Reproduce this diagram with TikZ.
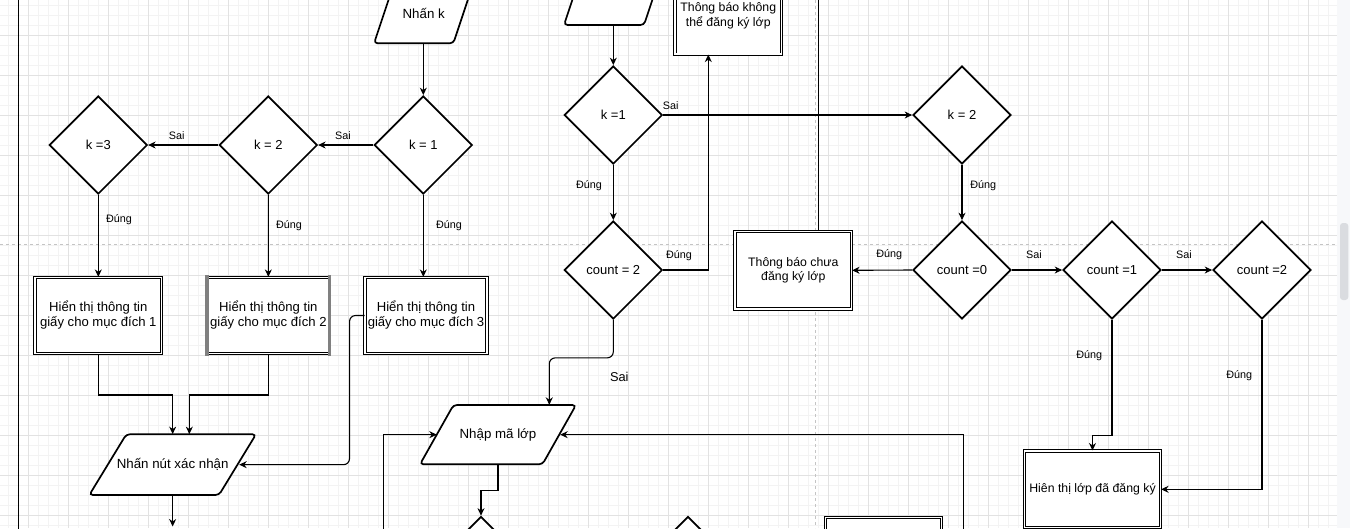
\documentclass[tikz,border=0pt]{standalone}
\usepackage{fontspec}
\setmainfont{Liberation Sans}
\usetikzlibrary{shapes.geometric,arrows.meta,calc}
\definecolor{gminor}{HTML}{F3F3F3}
\definecolor{gmajor}{HTML}{E2E2E2}
\definecolor{pagebreak}{HTML}{C4C4C4}
\definecolor{sbbg}{HTML}{F7F8FA}
\definecolor{sbthumb}{HTML}{DADCE0}
\definecolor{sidegray}{HTML}{808080}
\newcommand\mypgram[5]{\draw[pshape] ({#1-#3/2+#5},{#2-#4/2}) -- ({#1+#3/2},{#2-#4/2}) -- ({#1+#3/2-#5},{#2+#4/2}) -- ({#1-#3/2},{#2+#4/2}) -- cycle;}
\begin{document}
\begin{tikzpicture}[x=1pt,y=-1pt,
  dia/.style={diamond,draw,fill=white,line width=1.7pt,minimum width=98pt,minimum height=98pt,inner sep=0pt,font=\fontsize{13}{15}\selectfont},
  dbox/.style={rectangle,draw,fill=white,double,line width=0.9pt,double distance=1.5pt,inner sep=0pt,align=center},
  ptext/.style={inner sep=0pt,font=\fontsize{13.3}{15}\selectfont},
  pshape/.style={draw,fill=white,line width=1.7pt,rounded corners=3.5pt},
  conn/.style={line width=1.1pt,-{Stealth[length=7.5pt,width=7pt]}},
  wire/.style={line width=1.1pt},
  lbl/.style={inner sep=0pt,font=\fontsize{10.8}{12}\selectfont},
  bigfont/.style={font=\fontsize{13.1}{15}\selectfont},
  midfont/.style={font=\fontsize{12.3}{14.5}\selectfont},
  pb/.style={pagebreak,line width=0.8pt,dash pattern=on 3pt off 3pt}
]
\useasboundingbox (0,0) rectangle (1350,528);
\clip (0,0) rectangle (1350,528);
\fill[white] (0,0) rectangle (1350,528);
% grid
\foreach \i in {0,...,132} \draw[gminor,line width=0.7pt] ({8.3+10*\i},0) -- ({8.3+10*\i},528);
\foreach \j in {0,...,52} \draw[gminor,line width=0.7pt] (0,{5+10*\j}) -- (1336.7,{5+10*\j});
\foreach \i in {0,...,32} \draw[gmajor,line width=0.9pt] ({28.3+40*\i},0) -- ({28.3+40*\i},528);
\foreach \j in {0,...,12} \draw[gmajor,line width=0.9pt] (0,{35+40*\j}) -- (1336.7,{35+40*\j});
% page breaks
\draw[pb] (815.7,0) -- (815.7,528);
\draw[pb] (0,244.3) -- (1336.7,244.3);
% scrollbar
\fill[sbbg] (1336.7,0) rectangle (1350,528);
\fill[sbthumb,rounded corners=3pt] (1340,223) rectangle (1348.3,300);

% parallelograms
\mypgram{423.7}{13.3}{99.3}{60}{20}
\node[ptext,minimum width=99.3pt,minimum height=60pt] (pA) at (423.7,13.3) {Nhấn k};
\mypgram{614}{-5}{100}{60}{20}
\node[ptext,minimum width=100pt,minimum height=60pt] (pB) at (614,-5) {};
\mypgram{172.65}{464.65}{166.7}{60.7}{37}
\node[ptext,minimum width=166.7pt,minimum height=60.7pt] (pC) at (172.65,464.65) {Nhấn nút xác nhận};
\mypgram{498}{434.65}{156}{59.3}{33.5}
\node[ptext,minimum width=156pt,minimum height=59.3pt] (pD) at (498,434.65) {Nhập mã lớp};

% diamonds
\node[dia] (d1) at (423.3,145) {k = 1};
\node[dia] (d2) at (268.3,145) {k = 2};
\node[dia] (d3) at (98.3,145) {k =3};
\node[dia] (e1) at (613.3,115) {k =1};
\node[dia] (e2) at (613.3,270) {count = 2};
\node[dia] (f1) at (962,115) {k = 2};
\node[dia] (f2) at (962,270) {count =0};
\node[dia] (f3) at (1112,270) {count =1};
\node[dia] (f4) at (1262,270) {count =2};
\node[dia] (g1) at (481,565.5) {};
\node[dia] (g2) at (688,565.5) {};

% boxes
\node[dbox,bigfont,minimum width=126.7pt,minimum height=76.3pt] (b1) at (98.3,315.5) {Hiển thị thông tin\\giấy cho mục đích 1};
\node[dbox,bigfont,minimum width=122pt,minimum height=76.3pt] (b2) at (268.35,315.5) {Hiển thị thông tin\\giấy cho mục đích 2};
\fill[sidegray] ([shift={(-1.65,-1.65)}]b2.north west) rectangle ([shift={(1.7,1.65)}]b2.south west);
\fill[sidegray] ([shift={(-1.7,-1.65)}]b2.north east) rectangle ([shift={(1.65,1.65)}]b2.south east);
\node[dbox,bigfont,minimum width=122pt,minimum height=76.3pt] (b3) at (426,315.5) {Hiển thị thông tin\\giấy cho mục đích 3};
\node[dbox,midfont,minimum width=106.7pt,minimum height=76.7pt] (t1) at (728.3,15.8) {Thông báo không\\thể đăng ký lớp};
\node[dbox,midfont,minimum width=116.7pt,minimum height=77.3pt] (t2) at (793.3,270.3) {Thông báo chưa\\đăng ký lớp};
\node[dbox,midfont,minimum width=136.3pt,minimum height=76.7pt] (t3) at (1092.5,489.3) {Hiên thị lớp đã đăng ký};
\node[dbox,minimum width=116pt,minimum height=76.7pt] (t4) at (883.7,555.7) {};

% connectors
\draw[conn] (d1.north |- pA.south) -- (d1.north);
\draw[conn] (d1.west) -- (d2.east);
\draw[conn] (d2.west) -- (d3.east);
\draw[conn] (d3.south) -- (b1.north);
\draw[conn] (d2.south) -- (b2.north);
\draw[conn] (d1.south) -- (d1.south |- b3.north);
\coordinate (j1) at (98.3,395);
\coordinate (j2) at (268.35,395);
\draw[conn] (b1.south) -- (j1) -| (pC.north);
\draw[conn] (b2.south) -- (j2) -| ([xshift=16.7pt]pC.north);
\draw[conn,rounded corners=6pt] (b3.west) -- ++(-15,0) |- ([xshift=-17pt]pC.east);
\coordinate (outC) at (172.65,526.5);
\draw[conn] (pC.south) -- (outC);
\draw[conn] (e1.north |- pB.south) -- (e1.north);
\draw[conn] (e1.south) -- (e2.north);
\draw[conn] (e1.east) -- (f1.west);
\draw[conn] (e2.east) -| ([xshift=-20pt]t1.south);
\draw[conn,rounded corners=6pt] (e2.south) -- ++(0,38) -| ([xshift=51.3pt]pD.north);
\draw[conn] (f1.south) -- (f2.north);
\draw[conn] (f2.west) -- (t2.east);
\draw[conn] (f2.east) -- (f3.west);
\draw[conn] (f3.east) -- (f4.west);
\draw[conn] (f3.south) -- ++(0,116) -| (t3.north);
\draw[conn] (f4.south) |- (t3.east);
\coordinate (inR) at (963.3,535);
\draw[conn] (inR) |- ([xshift=-16pt]pD.east);
\coordinate (inL) at (383.3,535);
\draw[conn] (inL) |- ([xshift=17pt]pD.west);
\draw[conn] (pD.south) -- ++(0,25.7) -| (g1.north);
\coordinate (topL) at (818.3,-5);
\draw[wire] ([xshift=25pt]t2.north) -- (topL);
\coordinate (lt) at (18.3,-5);
\coordinate (lb) at (18.3,535);
\draw[wire] (lt) -- (lb);

% labels
\node[lbl] (s1) at (343,136) {Sai};
\node[lbl] (s2) at (176.7,136) {Sai};
\node[lbl] (u1) at (119,219.3) {Đúng};
\node[lbl] (u2) at (289,226) {Đúng};
\node[lbl] (u3) at (449,226) {Đúng};
\node[lbl] (u4) at (589,186) {Đúng};
\node[lbl] (s3) at (670.7,106) {Sai};
\node[lbl] (u5) at (679,256) {Đúng};
\node[inner sep=0pt,font=\fontsize{12.8}{15}\selectfont] (s4) at (619.3,376.7) {Sai};
\node[lbl] (u6) at (983.3,186) {Đúng};
\node[lbl] (u7) at (889.3,255) {Đúng};
\node[lbl] (s5) at (1034,255) {Sai};
\node[lbl] (s6) at (1184,255) {Sai};
\node[lbl] (u8) at (1089.3,356) {Đúng};
\node[lbl] (u9) at (1239.3,376) {Đúng};
\end{tikzpicture}
\end{document}
